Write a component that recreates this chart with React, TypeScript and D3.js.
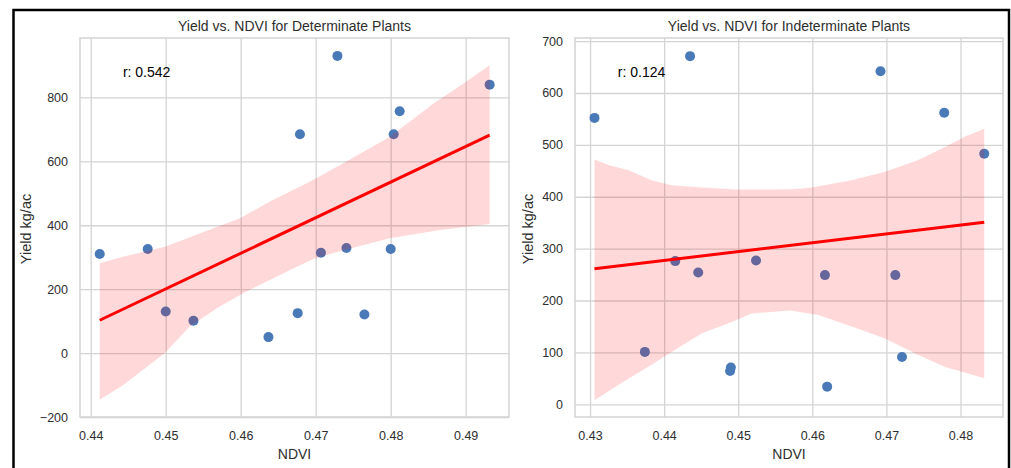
import React, { useEffect, useRef } from 'react';
import * as d3 from 'd3';

// determinate plants
const detNdvi = [0.4412, 0.4476, 0.45, 0.4537, 0.4637, 0.4676, 0.4679, 0.4707, 0.4729, 0.4741, 0.4765, 0.48, 0.4804, 0.4812, 0.4932];
const detYield = [310, 326, 130, 101, 50, 125, 685, 314, 930, 329, 121, 326, 685, 757, 840];
const detUpperX = [0.4412, 0.4444, 0.4499, 0.4546, 0.4599, 0.4639, 0.4692, 0.4732, 0.4799, 0.4857, 0.4897, 0.4932];
const detUpper = [281, 302, 333, 375, 422, 474, 536, 588, 677, 781, 844, 901];
const detLowerX = [0.4412, 0.4444, 0.447, 0.4499, 0.4532, 0.4572, 0.4604, 0.4639, 0.4666, 0.4699, 0.4755, 0.4799, 0.4866, 0.4932];
const detLower = [-146, -99, -52, 0, 83, 146, 188, 229, 260, 297, 333, 359, 385, 404];
const detXTicks = [0.44, 0.45, 0.46, 0.47, 0.48, 0.49];
const detYTicks = [-200, 0, 200, 400, 600, 800];

// indeterminate plants
const indNdvi = [0.4306, 0.4374, 0.4415, 0.4435, 0.4446, 0.4489, 0.449, 0.4524, 0.4617, 0.462, 0.4692, 0.4712, 0.4721, 0.4778, 0.4832];
const indYield = [552, 101, 276, 671, 254, 64, 71, 277, 249, 34, 642, 249, 91, 562, 483];
const indUpperX = [0.4306, 0.4325, 0.4352, 0.4383, 0.441, 0.4451, 0.45, 0.4545, 0.4577, 0.4599, 0.4653, 0.4698, 0.4743, 0.4779, 0.4806, 0.4832];
const indUpper = [472, 461, 451, 432, 422, 418, 414, 414, 415, 418, 432, 448, 471, 496, 516, 531];
const indLowerX = [0.4306, 0.4338, 0.4383, 0.4415, 0.4451, 0.4487, 0.4518, 0.4545, 0.457, 0.4608, 0.4653, 0.4698, 0.4743, 0.4779, 0.4832];
const indLower = [8, 37, 76, 105, 137, 156, 175, 178, 181, 172, 150, 127, 95, 72, 50];
const indXTicks = [0.43, 0.44, 0.45, 0.46, 0.47, 0.48];
const indYTicks = [0, 100, 200, 300, 400, 500, 600, 700];

const W = 1011;
const H = 468;
const TOP = 38;
const BOTTOM = 417;
const FONT = '"Liberation Sans", Arial, sans-serif';
const GRID = '#d4d4d4';
const TEXT = '#2e2e2e';

const panels = [
  {
    title: 'Yield vs. NDVI for Determinate Plants',
    r: 'r: 0.542',
    ndvi: detNdvi, yld: detYield,
    upperX: detUpperX, upper: detUpper, lowerX: detLowerX, lower: detLower,
    xTicks: detXTicks, yTicks: detYTicks,
    xDomain: [0.43857, 0.49578], yDomain: [-200, 986],
    left: 80, right: 509, labelX: 26,
  },
  {
    title: 'Yield vs. NDVI for Indeterminate Plants',
    r: 'r: 0.124',
    ndvi: indNdvi, yld: indYield,
    upperX: indUpperX, upper: indUpper, lowerX: indLowerX, lower: indLower,
    xTicks: indXTicks, yTicks: indYTicks,
    xDomain: [0.42797, 0.48573], yDomain: [-24.5, 706],
    left: 575, right: 1003, labelX: 527.5,
  },
];

export default function App() {
  const svgRef = useRef<SVGSVGElement>(null);

  useEffect(() => {
    const svg = d3.select(svgRef.current);
    svg.selectAll('*').remove();
    svg.append('rect').attr('width', W).attr('height', H).attr('fill', '#fff');

    panels.forEach((p) => {
      const x = d3.scaleLinear().domain(p.xDomain).range([p.left, p.right]);
      const y = d3.scaleLinear().domain(p.yDomain).range([BOTTOM, TOP]);
      const g = svg.append('g');

      const styleAxis = (a: any) => {
        a.select('.domain').remove();
        a.selectAll('line').attr('stroke', GRID).attr('stroke-width', 1.3);
        a.selectAll('text').attr('fill', TEXT).attr('font-size', 12.5).attr('font-family', FONT);
      };

      g.append('g')
        .attr('transform', `translate(0,${BOTTOM})`)
        .call(d3.axisBottom(x).tickValues(p.xTicks).tickFormat(d3.format('.2f')).tickSize(-(BOTTOM - TOP)).tickPadding(14))
        .call(styleAxis);

      g.append('g')
        .attr('transform', `translate(${p.left},0)`)
        .call(d3.axisLeft(y).tickValues(p.yTicks).tickFormat(d3.format('d')).tickSize(-(p.right - p.left)).tickPadding(12))
        .call(styleAxis);

      g.append('rect')
        .attr('x', p.left).attr('y', TOP)
        .attr('width', p.right - p.left).attr('height', BOTTOM - TOP)
        .attr('fill', 'none').attr('stroke', GRID).attr('stroke-width', 1.5);

      // scatter
      g.selectAll('.dot')
        .data(d3.zip(p.ndvi, p.yld))
        .join('circle')
        .attr('cx', (d) => x(d[0]))
        .attr('cy', (d) => y(d[1]))
        .attr('r', 5)
        .attr('fill', '#4a79b8');

      // confidence band
      const poly = [...d3.zip(p.upperX, p.upper), ...d3.zip(p.lowerX, p.lower).reverse()];
      const band = d3.line<number[]>().x((d) => x(d[0])).y((d) => y(d[1]));
      g.append('path')
        .attr('d', band(poly) + 'Z')
        .attr('fill', '#ff0000')
        .attr('fill-opacity', 0.15);

      // least squares fit
      const mx = d3.mean(p.ndvi)!;
      const my = d3.mean(p.yld)!;
      const sxy = d3.sum(p.ndvi, (v, i) => (v - mx) * (p.yld[i] - my));
      const sxx = d3.sum(p.ndvi, (v) => (v - mx) ** 2);
      const slope = sxy / sxx;
      const icpt = my - slope * mx;
      const ext = d3.extent(p.ndvi) as [number, number];
      const fit = d3.line<number>().x((v) => x(v)).y((v) => y(icpt + slope * v));
      g.append('path')
        .attr('d', fit(ext))
        .attr('stroke', '#ff0000')
        .attr('stroke-width', 3)
        .attr('fill', 'none');

      g.append('text')
        .attr('x', p.left + 0.1 * (p.right - p.left))
        .attr('y', BOTTOM - 0.9 * (BOTTOM - TOP) + 1)
        .attr('font-family', FONT).attr('font-size', 14).attr('fill', '#000')
        .text(p.r);

      g.append('text')
        .attr('x', (p.left + p.right) / 2).attr('y', 31)
        .attr('text-anchor', 'middle')
        .attr('font-family', FONT).attr('font-size', 14).attr('fill', TEXT)
        .text(p.title);

      g.append('text')
        .attr('x', (p.left + p.right) / 2).attr('y', 459)
        .attr('text-anchor', 'middle')
        .attr('font-family', FONT).attr('font-size', 14).attr('fill', TEXT)
        .text('NDVI');

      g.append('text')
        .attr('transform', `translate(${p.labelX},229) rotate(-90)`)
        .attr('text-anchor', 'middle')
        .attr('dominant-baseline', 'central')
        .attr('font-family', FONT).attr('font-size', 14.5).attr('fill', TEXT)
        .text('Yield kg/ac');
    });

    // outer frame
    svg.append('rect')
      .attr('x', 13.5).attr('y', 10)
      .attr('width', 995.5).attr('height', 470)
      .attr('fill', 'none').attr('stroke', '#000').attr('stroke-width', 2.5);
  }, []);

  return (
    <div style={{ position: 'absolute', left: 0, top: 0 }}>
      <svg ref={svgRef} width={W} height={H}></svg>
    </div>
  );
}
